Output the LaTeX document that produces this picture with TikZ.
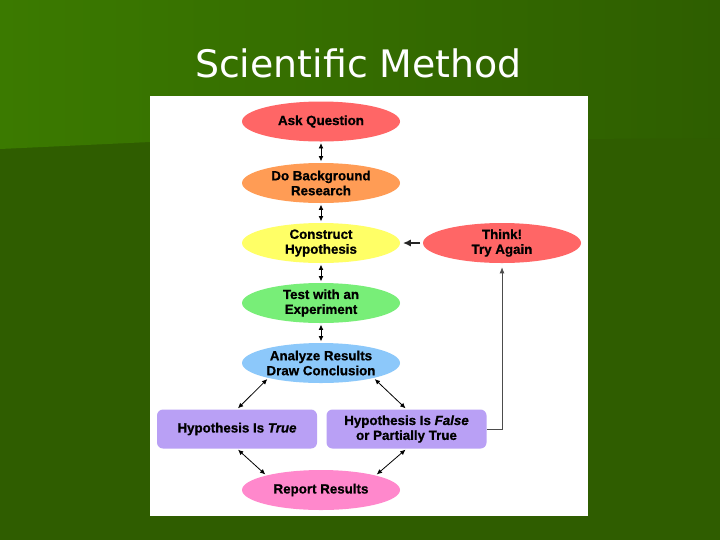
\documentclass[tikz,border=0pt]{standalone}
\usepackage{fontspec}
\setmainfont{Liberation Sans}[BoldFeatures={FakeBold=0.8},BoldItalicFeatures={FakeBold=0.8}]
\newfontfamily\titlefont{DejaVu Sans}
\usetikzlibrary{shapes.geometric,arrows.meta}
\definecolor{bgdark}{HTML}{2F5D00}
\definecolor{bglight}{HTML}{3B7A00}
\definecolor{bgmid}{HTML}{2E5E00}
\definecolor{cred}{HTML}{FF6666}
\definecolor{corange}{HTML}{FF9C55}
\definecolor{cyellow}{HTML}{FFFF66}
\definecolor{cgreen}{HTML}{78EE78}
\definecolor{cblue}{HTML}{8CC8FA}
\definecolor{cpurple}{HTML}{B9A0F5}
\definecolor{cpink}{HTML}{FF88CC}
\tikzset{
  oval/.style={ellipse, inner sep=0pt, minimum width=118.5pt, minimum height=30pt, align=center,
    font=\bfseries\fontsize{10}{11.2}\selectfont, text=black},
  hbox/.style={rectangle, rounded corners=4.5pt, inner sep=0pt, minimum width=120pt, minimum height=29.25pt,
    align=center, fill=cpurple, font=\bfseries\fontsize{10}{11.2}\selectfont, text=black},
  dbl/.style={{Latex[length=4pt,width=3.6pt]}-{Latex[length=4pt,width=3.6pt]}, line width=0.6pt, black, shorten <=1pt, shorten >=1pt},
}
\begin{document}
\begin{tikzpicture}[x=0.75pt,y=-0.75pt]
\useasboundingbox (0,0) rectangle (720,540);
% background
\fill[bgdark] (0,0) rectangle (720,540);
\shade[left color=bglight, right color=bgmid] (0,0) -- (720,0) -- (720,138) -- (150,142) -- (0,149) -- cycle;
% title
\node[anchor=base, text=white, font=\titlefont\fontsize{28.4}{30}\selectfont] (title) at (358.5,77) {Scientific Method};
% panel
\fill[white] (150,96) rectangle (588,516);
% nodes
\node[oval, fill=cred] (ask) at (321,121.5) {Ask Question};
\node[oval, fill=corange] (bg) at (321,183) {Do Background\\Research};
\node[oval, fill=cyellow] (con) at (321,243) {Construct\\Hypothesis};
\node[oval, fill=cred] (think) at (502,243) {Think!\\Try Again};
\node[oval, fill=cgreen] (test) at (321,303) {Test with an\\Experiment};
\node[oval, fill=cblue] (ana) at (321,363) {Analyze Results\\Draw Conclusion};
\node[hbox] (true) at (237,429) {Hypothesis Is \textit{True}};
\node[hbox] (false) at (406.5,429) {Hypothesis Is \textit{False}\\or Partially True};
\node[oval, fill=cpink] (rep) at (321,490) {Report Results};
% connectors
\draw[dbl] (ask) -- (bg);
\draw[dbl] (bg) -- (con);
\draw[dbl] (con) -- (test);
\draw[dbl] (test) -- (ana);
\draw[dbl] (ana.196) -- (true.north);
\draw[dbl] (ana.344) -- (false.north);
\draw[dbl] (true.south) -- (rep.165);
\draw[dbl] (false.south) -- (rep.15);
\draw[-{Latex[length=6pt,width=5.5pt]}, line width=1.4pt, black!85, shorten >=2pt, shorten <=2pt] (think) -- (con);
\draw[-{Latex[length=4.5pt,width=3.6pt]}, line width=0.5pt, black!70, shorten >=3pt] (false.east) -| (think.south);
\end{tikzpicture}
\end{document}
